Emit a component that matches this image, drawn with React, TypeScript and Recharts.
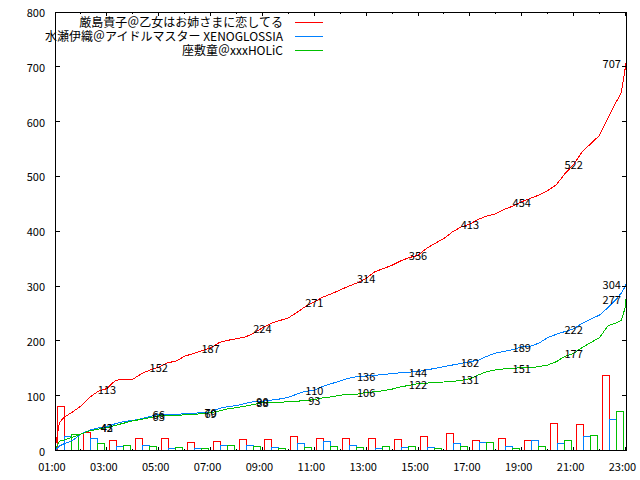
import React from "react";
import { BarChart, Bar, ComposedChart, Line, Scatter, XAxis, YAxis, Legend } from "recharts";

const FONT = "'Noto Sans CJK JP', 'Noto Sans', sans-serif";

const seriesNames = [
  "厳島貴子＠乙女はお姉さまに恋してる",
  "水瀬伊織＠アイドルマスター XENOGLOSSIA",
  "座敷童＠xxxHOLiC",
];
const seriesColors = ["#ff0000", "#0080ff", "#00c000"];

// hourly counts, one group per hour starting 01:00
const hours = [
  "01", "02", "03", "04", "05", "06", "07", "08", "09", "10", "11",
  "12", "13", "14", "15", "16", "17", "18", "19", "20", "21", "22",
];
const redHourly = [80, 33, 18, 21, 21, 14, 17, 20, 20, 25, 21, 21, 22, 20, 25, 31, 18, 22, 18, 49, 47, 137];
const blueHourly = [25, 21, 7, 10, 3, 4, 10, 10, 6, 13, 16, 10, 4, 6, 6, 12, 15, 8, 18, 13, 25, 56];
const greenHourly = [30, 12, 10, 7, 6, 4, 10, 7, 3, 6, 7, 6, 7, 8, 3, 7, 15, 4, 7, 18, 28, 71];

// running totals
const times = [
  "01:00", "01:10", "01:20", "01:40",
  "02:00", "02:20", "02:40", "03:00", "03:20", "03:40", "04:00", "04:20", "04:40",
  "05:00", "05:20", "05:40", "06:00", "06:20", "06:40", "07:00", "07:20", "07:40",
  "08:00", "08:20", "08:40", "09:00", "09:20", "09:40", "10:00", "10:20", "10:40",
  "11:00", "11:20", "11:40", "12:00", "12:20", "12:40", "13:00", "13:20", "13:40",
  "14:00", "14:20", "14:40", "15:00", "15:20", "15:40", "16:00", "16:20", "16:40",
  "17:00", "17:20", "17:40", "18:00", "18:20", "18:40", "19:00", "19:20", "19:40",
  "20:00", "20:20", "20:40", "21:00", "21:20", "21:40", "22:00", "22:20", "22:40", "22:50",
  "23:00", "23:01",
];
const redTotal = [
  3, 50, 60, 70,
  81, 97, 108, 113, 128, 130, 130, 140, 147,
  152, 160, 163, 172, 177, 182, 187, 197, 201,
  204, 207, 214, 224, 232, 237, 242, 252, 263,
  271, 280, 286, 293, 300, 306, 314, 326, 332,
  338, 346, 352, 356, 369, 378, 387, 399, 408,
  413, 422, 428, 432, 440, 446, 454, 460, 466,
  474, 485, 505, 522, 545, 560, 575, 607, 638, 652,
  700, 707,
];
const blueTotal = [
  0, 8, 12, 18,
  30, 37, 41, 43, 49, 53, 55, 58, 62,
  66, 66, 66, 67, 68, 69, 70, 77, 80,
  82, 86, 89, 90, 92, 94, 97, 103, 108,
  110, 117, 122, 127, 132, 135, 136, 137, 139,
  140, 142, 143, 144, 147, 150, 153, 156, 159,
  162, 165, 172, 178, 181, 184, 189, 190, 196,
  206, 212, 217, 222, 232, 240, 247, 261, 277, 287,
  300, 304,
];
const greenTotal = [
  0, 17, 19, 24,
  30, 36, 39, 42, 46, 50, 54, 57, 60,
  63, 63, 64, 65, 66, 67, 69, 72, 76,
  78, 81, 84, 88, 88, 88, 89, 90, 91,
  93, 96, 98, 101, 102, 103, 106, 107, 109,
  112, 116, 119, 122, 123, 124, 125, 126, 128,
  131, 138, 144, 147, 149, 150, 151, 151, 153,
  156, 162, 172, 177, 188, 197, 206, 228, 233, 237,
  262, 276,
];

// value labels on the lines
const labelTimes = ["03:00", "05:00", "07:00", "09:00", "11:00", "13:00", "15:00", "17:00", "19:00", "21:00", "23:01"];
const redLabels = [113, 152, 187, 224, 271, 314, 356, 413, 454, 522, 707];
const blueLabels = [43, 66, 70, 90, 110, 136, 144, 162, 189, 222, 304];
const greenLabels = [42, 63, 69, 88, 93, 106, 122, 131, 151, 177, 277];

const hourTicks = [1, 2, 3, 4, 5, 6, 7, 8, 9, 10, 11, 12, 13, 14, 15, 16, 17, 18, 19, 20, 21, 22, 23];
const yTicks = [0, 100, 200, 300, 400, 500, 600, 700, 800];

const toHours = (s: string) => {
  const [h, m] = s.split(":").map(Number);
  return h + m / 60;
};

const barData = hours.map((h, i) => ({ hour: h, red: redHourly[i], blue: blueHourly[i], green: greenHourly[i] }));
const lineData = times.map((t, i) => ({ t: toHours(t), red: redTotal[i], blue: blueTotal[i], green: greenTotal[i] }));
const labelData = (vals: number[]) => labelTimes.map((t, i) => ({ t: toHours(t), v: vals[i] }));

const pad = (n: number) => (n < 10 ? "0" + n : "" + n);

function BottomTick(props: any) {
  const { x, y, payload } = props;
  const major = payload.value % 2 === 1;
  return (
    <g>
      <line x1={x} x2={x} y1={y} y2={y - (major ? 4 : 2)} stroke="#000" shapeRendering="crispEdges" />
      {major && (
        <text x={x - 3} y={y + 15} textAnchor="middle" dominantBaseline="central" fontFamily={FONT} fontSize={11} fill="#000">
          {pad(payload.value) + ":00"}
        </text>
      )}
    </g>
  );
}

function TopTick(props: any) {
  const { x, y, payload } = props;
  const major = payload.value % 2 === 1;
  return <line x1={x} x2={x} y1={y} y2={y + (major ? 4 : 2)} stroke="#000" shapeRendering="crispEdges" />;
}

function LeftTick(props: any) {
  const { x, y, payload } = props;
  return (
    <g>
      <line x1={x} x2={x + 5} y1={y} y2={y} stroke="#000" shapeRendering="crispEdges" />
      <text x={x - 10} y={y} textAnchor="end" dominantBaseline="central" fontFamily={FONT} fontSize={11} fill="#000">
        {payload.value}
      </text>
    </g>
  );
}

function RightTick(props: any) {
  const { x, y } = props;
  return <line x1={x} x2={x - 5} y1={y} y2={y} stroke="#000" shapeRendering="crispEdges" />;
}

function ValueLabel(props: any) {
  const { cx, cy, payload } = props;
  const last = payload.t > 23;
  return (
    <text
      x={last ? cx - 5 : cx}
      y={cy}
      textAnchor={last ? "end" : "middle"}
      dominantBaseline="central"
      fontFamily={FONT}
      fontSize={11}
      fill="#000"
    >
      {payload.v}
    </text>
  );
}

function KeyBox() {
  return (
    <div style={{ fontFamily: FONT, fontSize: 12, color: "#000" }}>
      {seriesNames.map((name, i) => (
        <div key={name} style={{ display: "flex", justifyContent: "flex-end", alignItems: "center", height: 14.3 }}>
          <span style={{ whiteSpace: "nowrap", lineHeight: "14px" }}>{name}</span>
          <svg width={40} height={4} style={{ display: "block" }}>
            <line x1={12} x2={40} y1={2} y2={2} stroke={seriesColors[i]} strokeWidth={1} shapeRendering="crispEdges" />
          </svg>
        </div>
      ))}
    </div>
  );
}

const axisLine = { stroke: "#000", shapeRendering: "crispEdges" };

export default function App() {
  return (
    <div style={{ position: "absolute", left: 0, top: 0, width: 640, height: 480, background: "#fff" }}>
      <div style={{ position: "absolute", left: 0, top: 0 }}>
        <BarChart
          width={640}
          height={480}
          data={barData}
          margin={{ top: 12, right: 14.5, bottom: 29.5, left: 55 }}
          barGap={0}
          barCategoryGap={2.5}
        >
          <XAxis dataKey="hour" hide />
          <YAxis domain={[0, 800]} hide />
          <Bar dataKey="red" fill="none" stroke={seriesColors[0]} shapeRendering="crispEdges" isAnimationActive={false} />
          <Bar dataKey="blue" fill="none" stroke={seriesColors[1]} shapeRendering="crispEdges" isAnimationActive={false} />
          <Bar dataKey="green" fill="none" stroke={seriesColors[2]} shapeRendering="crispEdges" isAnimationActive={false} />
        </BarChart>
      </div>
      <div style={{ position: "absolute", left: 0, top: 0 }}>
        <ComposedChart width={640} height={480} data={lineData} margin={{ top: 0, right: 0, bottom: 0, left: 0 }}>
          <XAxis
            dataKey="t"
            type="number"
            domain={[1, 23.04]}
            ticks={hourTicks}
            interval={0}
            height={29.5}
            tickSize={0}
            tickMargin={0}
            tickLine={false}
            axisLine={axisLine}
            tick={<BottomTick />}
          />
          <XAxis
            xAxisId="top"
            orientation="top"
            dataKey="t"
            type="number"
            domain={[1, 23.04]}
            ticks={hourTicks}
            interval={0}
            height={12}
            tickSize={0}
            tickMargin={0}
            tickLine={false}
            axisLine={axisLine}
            tick={<TopTick />}
          />
          <YAxis
            domain={[0, 800]}
            ticks={yTicks}
            interval={0}
            width={55}
            tickSize={0}
            tickMargin={0}
            tickLine={false}
            axisLine={axisLine}
            tick={<LeftTick />}
          />
          <YAxis
            yAxisId="right"
            orientation="right"
            domain={[0, 800]}
            ticks={yTicks}
            interval={0}
            width={13.5}
            tickSize={0}
            tickMargin={0}
            tickLine={false}
            axisLine={axisLine}
            tick={<RightTick />}
          />
          <Legend
            layout="vertical"
            align="center"
            verticalAlign="middle"
            content={<KeyBox />}
            wrapperStyle={{ top: 14.5, left: 0, width: 323 }}
          />
          <Line type="linear" dataKey="red" name={seriesNames[0]} stroke={seriesColors[0]} strokeWidth={1} dot={false} shapeRendering="crispEdges" isAnimationActive={false} />
          <Line type="linear" dataKey="blue" name={seriesNames[1]} stroke={seriesColors[1]} strokeWidth={1} dot={false} shapeRendering="crispEdges" isAnimationActive={false} />
          <Line type="linear" dataKey="green" name={seriesNames[2]} stroke={seriesColors[2]} strokeWidth={1} dot={false} shapeRendering="crispEdges" isAnimationActive={false} />
          <Scatter xAxisId="top" yAxisId="right" data={labelData(redLabels)} dataKey="v" legendType="none" shape={<ValueLabel />} isAnimationActive={false} />
          <Scatter xAxisId="top" yAxisId="right" data={labelData(blueLabels)} dataKey="v" legendType="none" shape={<ValueLabel />} isAnimationActive={false} />
          <Scatter xAxisId="top" yAxisId="right" data={labelData(greenLabels)} dataKey="v" legendType="none" shape={<ValueLabel />} isAnimationActive={false} />
        </ComposedChart>
      </div>
    </div>
  );
}
